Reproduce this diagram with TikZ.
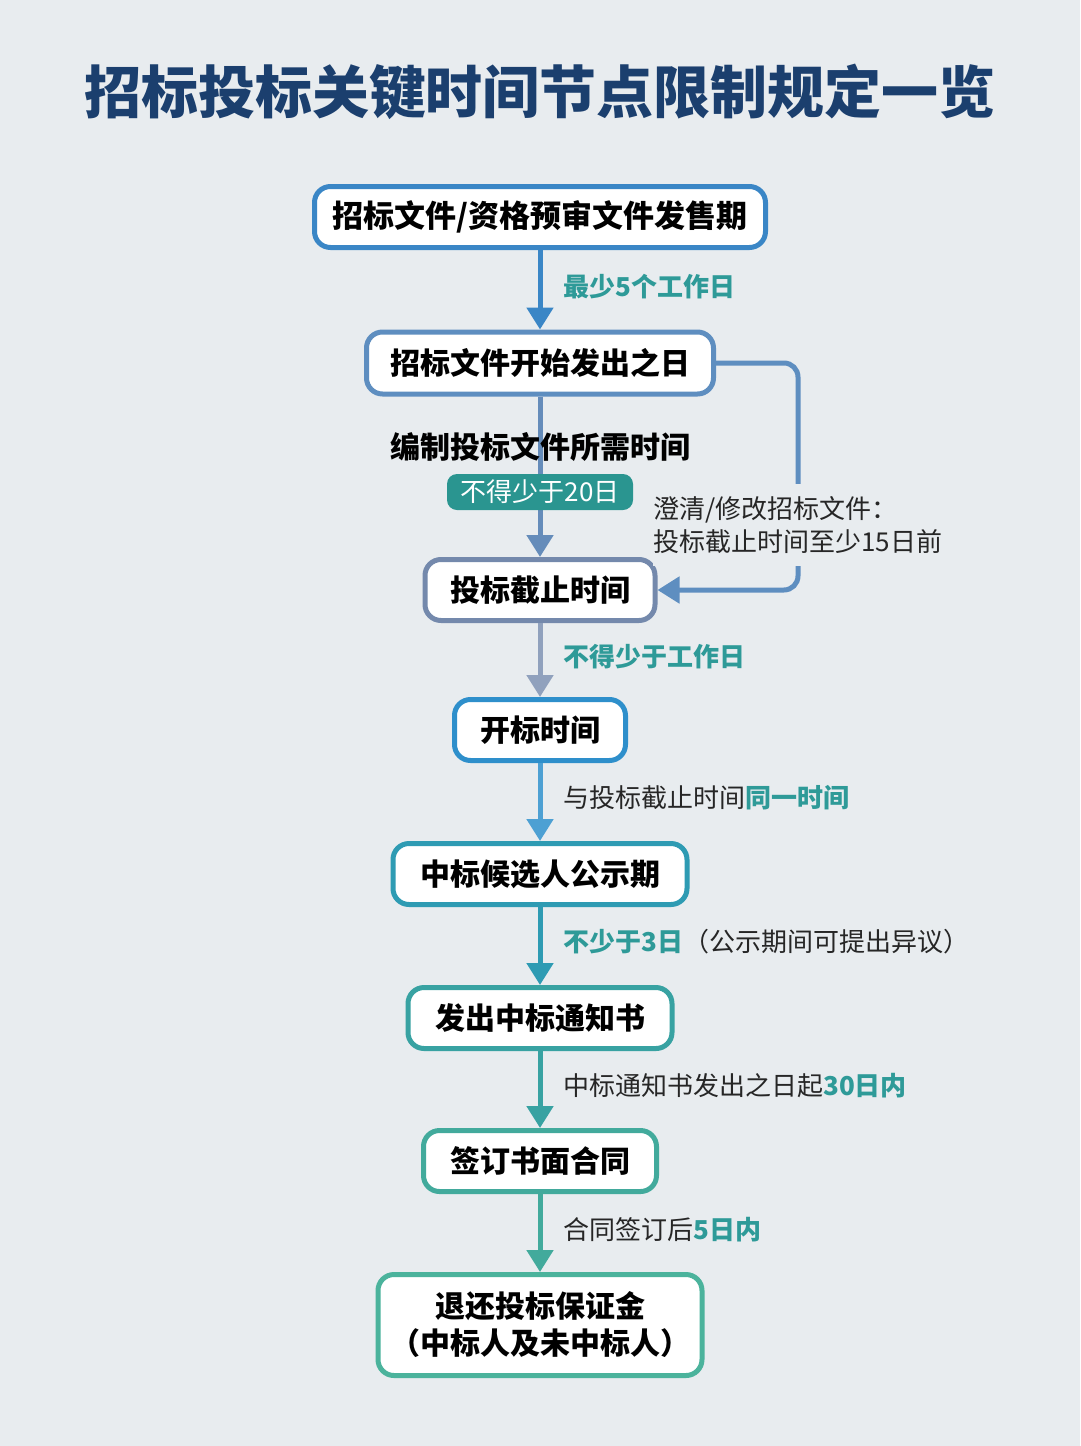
\documentclass[tikz,border=0pt]{standalone}
\usepackage{fontspec}
\setmainfont{Noto Sans CJK SC}
\usetikzlibrary{arrows.meta}

\definecolor{bg}{HTML}{E8ECEF}
\definecolor{titleblue}{HTML}{1B3F6E}
\definecolor{tealtext}{HTML}{2E9A98}
\definecolor{badgeteal}{HTML}{2A9590}
\definecolor{c1}{HTML}{3A86C6}
\definecolor{c2}{HTML}{5E8EC0}
\definecolor{c3}{HTML}{7489AC}
\definecolor{c4}{HTML}{2E8FCB}
\definecolor{c5}{HTML}{2E9BB3}
\definecolor{c6}{HTML}{38A2A2}
\definecolor{c7}{HTML}{42AA9C}
\definecolor{c8}{HTML}{4BB39C}

\tikzset{
	stage/.style={draw, line width=5pt, fill=white, rounded corners=16pt, minimum height=61pt, inner sep=0pt, text=black, font=\fontsize{30}{37}\selectfont\bfseries},
	flow/.style={line width=5pt, -{Triangle[width=26pt,length=22pt]}},
	note/.style={anchor=west, inner sep=0pt, text=black!85, font=\fontsize{26}{33}\selectfont},
}
\newcommand{\hl}[1]{\textcolor{tealtext}{\bfseries #1}}

\begin{document}
\begin{tikzpicture}[x=1pt, y=-1pt]
	\fill[bg] (0,0) rectangle (1080,1446);
	\draw (540,92) node[text=titleblue, font=\fontsize{57}{60}\selectfont\bfseries](title) {招标投标关键时间节点限制规定一览};
	\draw (540,217) node[stage, draw=c1, minimum width=451pt, font=\fontsize{31}{37}\selectfont\bfseries](sale) {招标文件/资格预审文件发售期};
	\draw (540,363) node[stage, draw=c2, minimum width=347pt, minimum height=62pt](issue) {招标文件开始发出之日};
	\draw (540,590) node[stage, draw=c3, minimum width=230pt](due) {投标截止时间};
	\draw (540,730) node[stage, draw=c4, minimum width=171pt](open) {开标时间};
	\draw (540,874) node[stage, draw=c5, minimum width=294pt](pub) {中标候选人公示期};
	\draw (540,1018) node[stage, draw=c6, minimum width=264pt](notice) {发出中标通知书};
	\draw (540,1161) node[stage, draw=c7, minimum width=233pt](sign) {签订书面合同};
	\draw (540,1325) node[stage, draw=c8, minimum width=324pt, minimum height=101pt, align=center](refund) {退还投标保证金\\（中标人及未中标人）};
	% arrows down the middle
	\draw[flow, draw=c1] (sale) -- (issue);
	\draw[flow, draw=c2!70!c3] (issue) -- (due);
	\draw[flow, draw=c3!80!white] (due) -- (open);
	\draw[flow, draw=c4!85!white] (open) -- (pub);
	\draw[flow, draw=c5] (pub) -- (notice);
	\draw[flow, draw=c6] (notice) -- (sign);
	\draw[flow, draw=c7] (sign) -- (refund);
	% side path for clarification
	\coordinate (side) at (798,470);
	\draw[flow, draw=c2, rounded corners=14pt] (issue.east) -| (side) |- (due.east);
	\draw (653,525) node[note, fill=bg, inner ysep=12pt, align=left](clarify) {澄清/修改招标文件：\\投标截止时间至少15日前};
	% labels
	\draw (540,447) node[text=black, font=\fontsize{30}{36}\selectfont\bfseries](prep) {编制投标文件所需时间};
	\draw (540,492) node[fill=badgeteal, text=white, rounded corners=10pt, minimum width=186pt, minimum height=36pt, inner sep=0pt, font=\fontsize{26}{30}\selectfont](days20) {不得少于20日};
	\draw (563,287) node[note](lab1) {\hl{最少5个工作日}};
	\draw (563,657) node[note](lab2) {\hl{不得少于工作日}};
	\draw (563,798) node[note](lab3) {与投标截止时间\hl{同一时间}};
	\draw (563,942) node[note](lab4) {\hl{不少于3日}（公示期间可提出异议）};
	\draw (563,1086) node[note](lab5) {中标通知书发出之日起\hl{30日内}};
	\draw (563,1230) node[note](lab6) {合同签订后\hl{5日内}};
\end{tikzpicture}
\end{document}
